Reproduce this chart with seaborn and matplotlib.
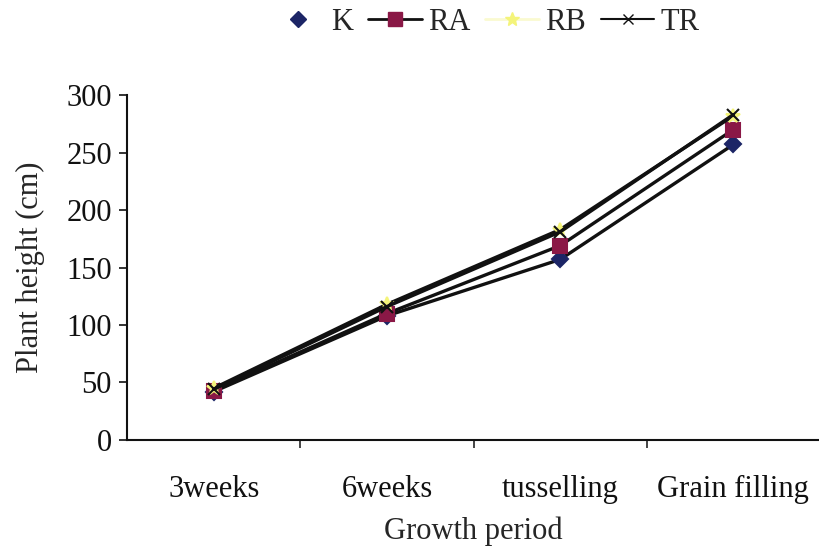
import pandas as pd
import numpy as np
import matplotlib
matplotlib.use("Agg")
import matplotlib.pyplot as plt
from matplotlib.lines import Line2D
from matplotlib.ticker import FixedLocator
import seaborn as sns

# Data
periods = ["3weeks", "6weeks", "tusselling", "Grain filling"]
k_vals = [42, 108, 157, 257]
ra_vals = [43, 110, 169, 270]
rb_vals = [45, 118, 183, 282]
tr_vals = [44, 116, 181, 283]

series = {"K": k_vals, "RA": ra_vals, "RB": rb_vals, "TR": tr_vals}
colors = {"K": "#1c2566", "RA": "#8a1846", "RB": "#f4f47a", "TR": "#111111"}
markers = {"K": "D", "RA": "s", "RB": "*", "TR": "x"}
msizes = {"K": 8, "RA": 10, "RB": 10, "TR": 8}

sns.set_style("white")
plt.rcParams["font.family"] = ["Liberation Serif", "DejaVu Serif"]

fig = plt.figure(figsize=(8.2, 5.51), dpi=100)
ax = fig.add_axes([0.155, 0.2015, 0.845, 0.626])

for name, vals in series.items():
    df = pd.DataFrame({"period": periods, "height": vals})
    sns.lineplot(data=df, x="period", y="height", ax=ax, color="#111111",
                 linewidth=2.4, marker=markers[name], markersize=msizes[name],
                 markerfacecolor=colors[name], markeredgecolor=colors[name],
                 markeredgewidth=1.5, sort=False)

ax.set_xlim(-0.5, 3.5)
ax.set_ylim(0, 300)
ax.set_yticks(np.arange(0, 301, 50))
ax.tick_params(axis="y", direction="out", length=6, width=1.2, left=True,
               labelsize=22, pad=5, colors="#111111")
ax.tick_params(axis="x", which="major", length=0, labelsize=22, pad=25,
               colors="#111111")
ax.xaxis.set_minor_locator(FixedLocator([0.5, 1.5, 2.5]))
ax.tick_params(axis="x", which="minor", direction="out", length=6, width=1.2,
               bottom=True)

for side in ["top", "right"]:
    ax.spines[side].set_visible(False)
for side in ["left", "bottom"]:
    ax.spines[side].set_color("#111111")
    ax.spines[side].set_linewidth(1.5)

ax.set_xlabel("Growth period", fontsize=22, labelpad=9)
ax.set_ylabel("Plant height (cm)", fontsize=22, labelpad=15)

handles = [
    Line2D([], [], linestyle="none", marker="D", markersize=8,
           color=colors["K"]),
    Line2D([], [], color="#111111", linewidth=2, marker="s", markersize=10,
           markerfacecolor=colors["RA"], markeredgecolor=colors["RA"]),
    Line2D([], [], color="#fafad0", linewidth=2, marker="*", markersize=10,
           markerfacecolor=colors["RB"], markeredgecolor=colors["RB"]),
    Line2D([], [], color="#111111", linewidth=1.5, marker="x", markersize=7,
           markeredgecolor="#111111"),
]
fig.legend(handles, list(series.keys()), loc="center",
           bbox_to_anchor=(0.592, 0.96), ncol=4, frameon=False, fontsize=22,
           handlelength=1.75, handletextpad=0.2, columnspacing=0.5)

fig.savefig("out.png", dpi=100)
